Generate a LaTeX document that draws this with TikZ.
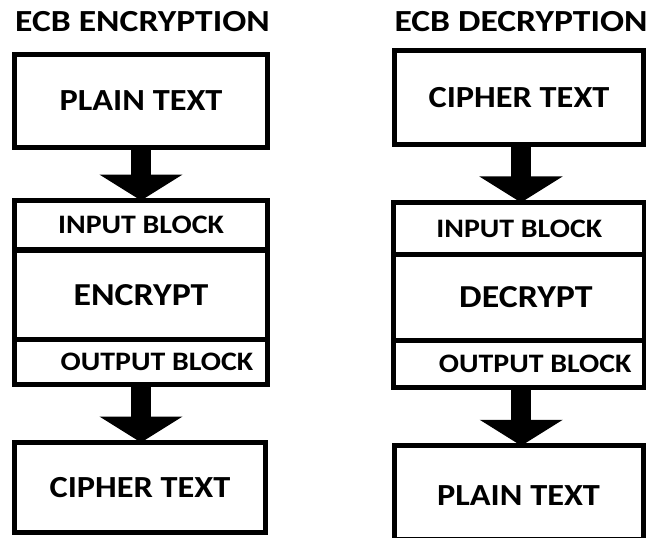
\documentclass[tikz,border=0pt]{standalone}
\usepackage{fontspec}
\setmainfont{Carlito}
\newfontfamily\widefont[FakeStretch=1.12]{Carlito}
\newfontfamily\titlefont[FakeStretch=1.16]{Carlito}
\usetikzlibrary{arrows.meta}
\tikzset{
  box/.style={draw, line width=3.75pt, rectangle, inner sep=0pt, outer sep=0pt},
  ttl/.style={font=\titlefont\fontsize{23}{26}\selectfont\bfseries},
  big/.style={font=\widefont\fontsize{23}{26}\selectfont\bfseries},
  mid/.style={font=\widefont\fontsize{24}{27}\selectfont\bfseries},
  small/.style={font=\widefont\fontsize{20}{23}\selectfont\bfseries},
  flow/.style={line width=15pt, -{Triangle[width=61.5pt,length=19.5pt]}},
}
\begin{document}
\begin{tikzpicture}[x=0.75pt,y=-0.75pt]
\useasboundingbox (0,0) rectangle (646,538);
% left column
\node[ttl] (t1) at (142.5,22) {ECB ENCRYPTION};
\node[box, minimum width=189.75pt, minimum height=69.75pt] (pt1) at (141,101) {};
\node[big] at (pt1.center) {PLAIN TEXT};
\node[box, minimum width=189.75pt, minimum height=37.1pt] (ib1) at (141,225.25) {};
\node[small] at (ib1.center) {INPUT BLOCK};
\node[box, minimum width=189.75pt, minimum height=67.1pt] (en1) at (141,294.75) {};
\node[mid] at (en1.center) {ENCRYPT};
\node[box, minimum width=189.75pt, minimum height=33.75pt] (ob1) at (141,362) {};
\node[small] at ([xshift=12pt]ob1.center) {OUTPUT BLOCK};
\node[box, minimum width=188.25pt, minimum height=67.5pt] (ct1) at (140,487.5) {};
\node[big] at (ct1.center) {CIPHER TEXT};
\draw[flow] (pt1.south) -- (ib1.north);
\draw[flow] (ob1.south) -- (ct1.north -| ob1.south);
% right column
\node[ttl] (t2) at (521,22) {ECB DECRYPTION};
\node[box, minimum width=186.75pt, minimum height=70.5pt] (ct2) at (519,97.5) {};
\node[big] at (ct2.center) {CIPHER TEXT};
\node[box, minimum width=188.25pt, minimum height=39pt] (ib2) at (519.25,228.5) {};
\node[small] at (ib2.center) {INPUT BLOCK};
\node[box, minimum width=188.25pt, minimum height=64.5pt] (de2) at (519.25,297.5) {};
\node[mid] at ([xshift=5pt]de2.center) {DECRYPT};
\node[box, minimum width=188.25pt, minimum height=35.25pt] (ob2) at (519.25,364) {};
\node[small] at ([xshift=12pt]ob2.center) {OUTPUT BLOCK};
\node[box, minimum width=186.75pt, minimum height=70.5pt] (pt2) at (518.5,492.75) {};
\node[big] at ([yshift=-2pt]pt2.center) {PLAIN TEXT};
\draw[flow] ([xshift=1.5pt]ct2.south) -- ([xshift=1.5pt]ct2.south |- ib2.north);
\draw[flow] ([xshift=1.5pt]ob2.south) -- ([xshift=1.5pt]ob2.south |- pt2.north);
\end{tikzpicture}
\end{document}
